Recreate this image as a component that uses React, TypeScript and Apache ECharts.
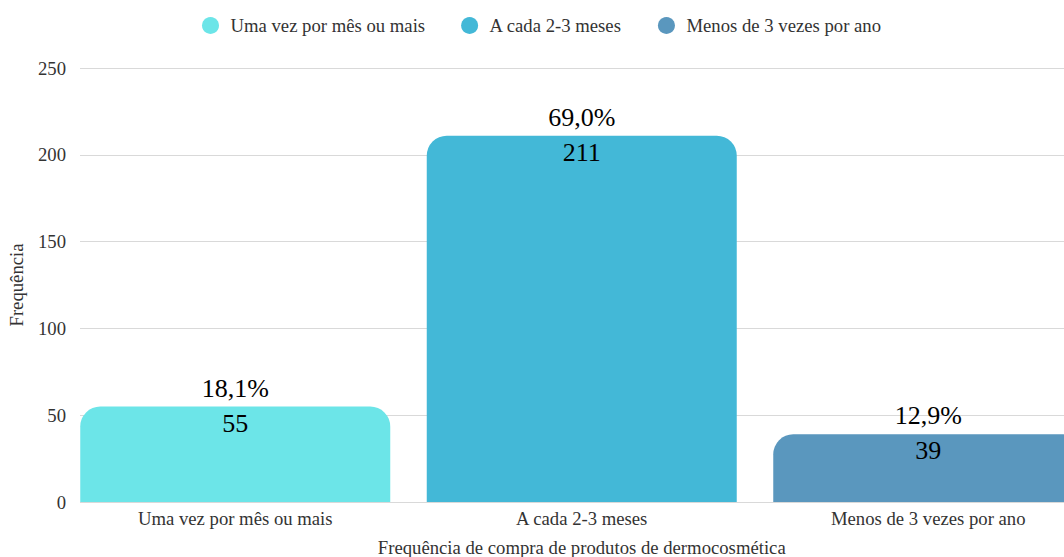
import React, { useEffect, useRef } from "react";
import * as echarts from "echarts";

const categories = ["Uma vez por mês ou mais", "A cada 2-3 meses", "Menos de 3 vezes por ano"];
const counts = [55, 211, 39];
const percents = ["18,1%", "69,0%", "12,9%"];
const colors = ["#6CE5E8", "#43B8D7", "#5A97BE"];
const yTicks = { min: 0, max: 250, interval: 50 };
const xAxisTitle = "Frequência de compra de produtos de dermocosmética";
const yAxisTitle = "Frequência";

const FONT = "'Liberation Serif', 'Times New Roman', serif";
const FS = 18.7;

export default function App() {
  const ref = useRef<HTMLDivElement>(null);
  useEffect(() => {
    if (!ref.current) return;
    const chart = echarts.init(ref.current, null, { renderer: "svg" });
    const series = categories.map((name, i) => ({
      name,
      type: "bar",
      stack: "total",
      xAxisIndex: 0,
      yAxisIndex: 0,
      barWidth: 310,
      data: categories.map((_, j) => (j === i ? counts[i] : null)),
      itemStyle: { color: colors[i], borderRadius: [20, 20, 0, 0] },
      label: {
        show: true,
        position: "insideTop",
        distance: 0,
        offset: [0, -36],
        formatter: (p: any) => `${percents[p.dataIndex]}\n${p.value}`,
        fontFamily: FONT,
        fontSize: 26,
        lineHeight: 35,
        color: "#000",
      },
    }));
    chart.setOption({
      animation: false,
      textStyle: { fontFamily: FONT },
      legend: {
        top: 11,
        left: 197,
        icon: "circle",
        itemWidth: 30,
        itemHeight: 17,
        itemGap: 36,
        textStyle: { fontFamily: FONT, fontSize: FS, color: "#333" },
        data: categories,
      },
      grid: [
        { left: 62, top: 68, width: 1039.5, height: 434, outerBoundsMode: "none", containLabel: false },
        { left: 80, top: 68, width: 1080, height: 434, outerBoundsMode: "none", containLabel: false },
      ],
      xAxis: [
        {
          type: "category",
          gridIndex: 0,
          data: categories,
          axisLine: { show: false },
          axisTick: { show: false },
          axisLabel: { fontFamily: FONT, fontSize: FS, color: "#333", margin: 7 },
          name: xAxisTitle,
          nameLocation: "middle",
          nameGap: 36,
          nameTextStyle: { fontFamily: FONT, fontSize: FS, color: "#333" },
        },
        { type: "value", gridIndex: 1, show: false },
      ],
      yAxis: [
        { type: "value", gridIndex: 0, ...yTicks, show: false },
        {
          type: "value",
          gridIndex: 1,
          ...yTicks,
          axisLine: { show: false },
          axisTick: { show: false },
          axisLabel: { fontFamily: FONT, fontSize: FS, color: "#333", margin: 14 },
          splitLine: { lineStyle: { color: "#d9d9d9", width: 1 } },
          name: yAxisTitle,
          nameLocation: "middle",
          nameGap: 54,
          nameTextStyle: { fontFamily: FONT, fontSize: FS, color: "#333" },
        },
      ],
      series,
    });
    return () => chart.dispose();
  }, []);
  return (
    <div
      ref={ref}
      style={{ position: "fixed", left: 0, top: 0, width: 1180, height: 557, background: "#fff" }}
    />
  );
}
